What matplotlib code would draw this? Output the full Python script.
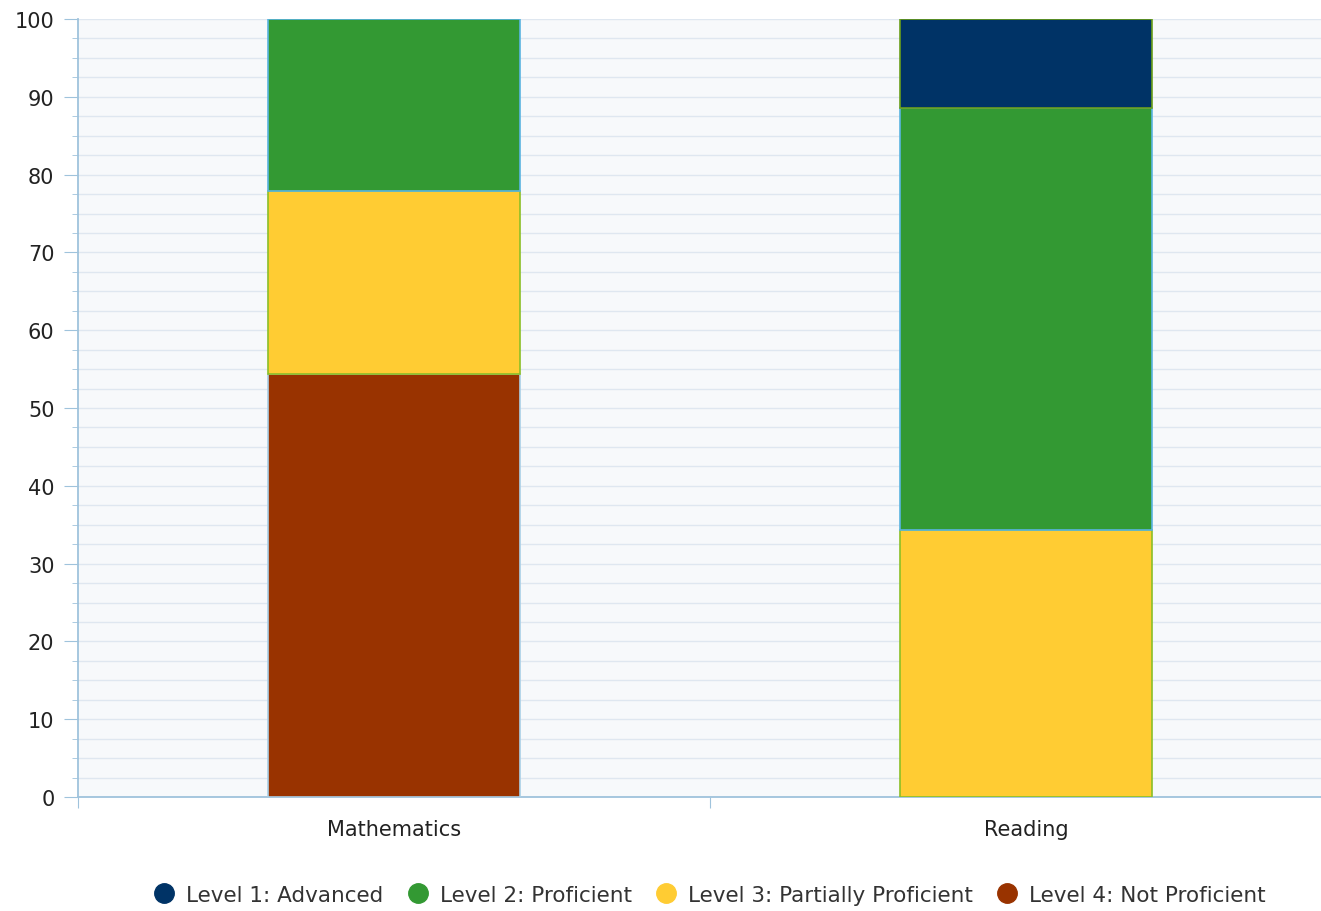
import numpy as np
import matplotlib.pyplot as plt
from matplotlib.lines import Line2D

plt.rcParams['font.family'] = ['DejaVu Sans']

subjects = ['Mathematics', 'Reading']
levels = ['Level 1: Advanced', 'Level 2: Proficient',
          'Level 3: Partially Proficient', 'Level 4: Not Proficient']
advanced = [0.0, 11.4]
proficient = [22.1, 54.3]
partial = [23.5, 34.3]
not_prof = [54.4, 0.0]

colors = ['#003366', '#339933', '#ffcc33', '#993300']
edges = ['#6a9e1a', '#5ab4e0', '#8cbf26', '#a9cfe6']

fig = plt.figure(figsize=(13.21, 9.12), dpi=100)
ax = fig.add_axes([78 / 1321, 1 - 798 / 912, 1264 / 1321, 778 / 912])
ax.set_facecolor('#f7f9fb')

x = np.arange(len(subjects))
w = 0.4
# stack from bottom: level 4, level 3, level 2, level 1
stack = [not_prof, partial, proficient, advanced]
stack_colors = colors[::-1]
stack_edges = edges[::-1]
bottom = np.zeros(len(subjects))
for vals, c, e in zip(stack, stack_colors, stack_edges):
    vals = np.array(vals)
    mask = vals > 0
    ax.bar(x[mask], vals[mask], w, bottom=bottom[mask], color=c,
           edgecolor=e, linewidth=1.2, zorder=3)
    bottom += vals

ax.set_xlim(-0.5, 1.5)
ax.set_ylim(0, 100)
ax.set_yticks(np.arange(0, 101, 10))
ax.set_yticks(np.arange(0, 100.1, 2.5), minor=True)
ax.grid(axis='y', which='both', color='#dfe7f0', linewidth=1, zorder=0)
ax.set_xticks([-0.5, 0.5, 1.5])
ax.set_xticklabels([])
ax.set_xticks(x, minor=True)
ax.set_xticklabels(subjects, minor=True)

for s in ['top', 'right']:
    ax.spines[s].set_visible(False)
ax.spines['left'].set_color('#9fc3dc')
ax.spines['bottom'].set_color('#9fc3dc')
ax.spines['left'].set_linewidth(1.3)
ax.spines['bottom'].set_linewidth(1.3)
ax.axhline(100, color='#b8d3e6', linewidth=1.3, zorder=1)
ax.tick_params(axis='y', which='major', length=10, color='#9fc3dc',
               labelsize=15, labelcolor='#222222', pad=7)
ax.tick_params(axis='y', which='minor', length=4, color='#9fc3dc')
ax.tick_params(axis='x', which='major', length=8, color='#9fc3dc')
ax.tick_params(axis='x', which='minor', length=0, labelsize=15,
               labelcolor='#222222', pad=16)

handles = [Line2D([0], [0], marker='o', linestyle='', markersize=14,
                  markerfacecolor=c, markeredgecolor=c) for c in colors]
fig.legend(handles, levels, loc='center', bbox_to_anchor=(0.533, 1 - 896 / 912),
           ncol=4, frameon=False, fontsize=15.5, handletextpad=0.02,
           columnspacing=0.6, labelcolor='#333333')

fig.savefig('out.png', dpi=100)
